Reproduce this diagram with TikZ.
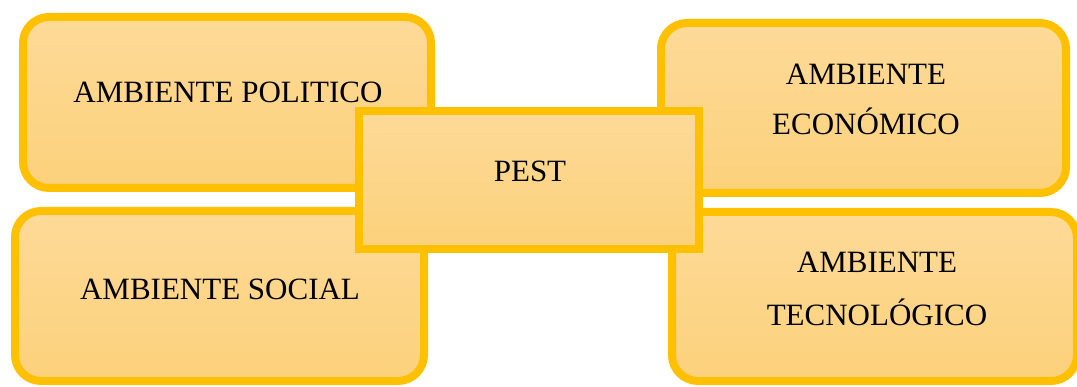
\documentclass[tikz,border=0pt]{standalone}
\usepackage{fontspec}
\setmainfont{Liberation Serif}
\usetikzlibrary{calc}
\definecolor{boxline}{HTML}{FFC000}
\definecolor{filltop}{HTML}{FDDA98}
\definecolor{fillbot}{HTML}{FCD17B}
\tikzset{
  x=1pt, y=1pt,
  panel/.style={draw=boxline, line width=8pt, top color=filltop, bottom color=fillbot,
    rounded corners=26pt, inner sep=0pt},
  hub/.style={draw=boxline, line width=8pt, top color=filltop, bottom color=fillbot,
    inner sep=0pt, minimum width=340pt, minimum height=138pt},
  caption/.style={anchor=base, inner sep=0pt, font=\fontsize{31}{36}\selectfont, text=black}
}
\begin{document}
\begin{tikzpicture}
\useasboundingbox (0,0) rectangle (1077,386);
% four surrounding environments
\node[panel, minimum width=408pt, minimum height=171pt] (pol) at (227,283.5) {};
\node[panel, minimum width=409pt, minimum height=170pt] (soc) at (219.5,90) {};
\node[panel, minimum width=405pt, minimum height=170pt] (eco) at (863.5,278) {};
\node[panel, minimum width=405pt, minimum height=169pt] (tec) at (874.5,89.5) {};
% central box on top
\node[hub] (pest) at (529,206) {};
% labels
\node[caption] (tpol) at (228,283) {AMBIENTE POLITICO};
\node[caption] (tsoc) at (220,87) {AMBIENTE SOCIAL};
\node[caption] (tpest) at (530,204) {PEST};
\node[caption] (teco1) at (866,301) {AMBIENTE};
\node[caption] (teco2) at (866,251) {ECONÓMICO};
\node[caption] (ttec1) at (877,113) {AMBIENTE};
\node[caption] (ttec2) at (877,61) {TECNOLÓGICO};
\end{tikzpicture}
\end{document}
